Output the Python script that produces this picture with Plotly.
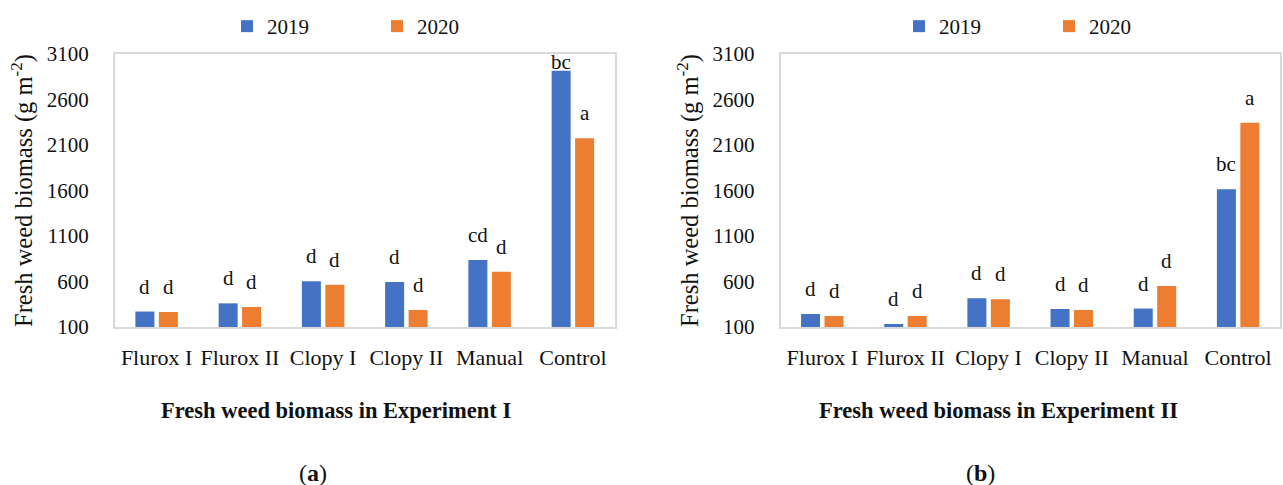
import plotly.graph_objects as go

# Treatments on the category axis and the two seasons shown as grouped bars
treatments = ["Flurox I", "Flurox II", "Clopy I", "Clopy II", "Manual", "Control"]
years = ["2019", "2020"]

# Fresh weed biomass (g m-2), Experiment I
exp1_2019 = [270, 360, 602, 595, 836, 2917]
exp1_2020 = [265, 320, 565, 287, 708, 2174]
exp1_letters_2019 = ["d", "d", "d", "d", "cd", "bc"]
exp1_letters_2020 = ["d", "d", "d", "d", "d", "a"]

# Fresh weed biomass (g m-2), Experiment II
exp2_2019 = [243, 133, 415, 298, 303, 1613]
exp2_2020 = [221, 221, 404, 287, 551, 2345]
exp2_letters_2019 = ["d", "d", "d", "d", "d", "bc"]
exp2_letters_2020 = ["d", "d", "d", "d", "d", "a"]

y_ticks = [100, 600, 1100, 1600, 2100, 2600, 3100]

W, H = 1283, 485
BLUE, ORANGE = "#4472C4", "#ED7D31"
FONT = "Liberation Serif"
INK = "#111"
BORDER = "#d9d9d9"
Y_RANGE = [100, 3100]
BARGAP, BARGROUPGAP = 0.436, 0.19

X1_DOM = [115 / W, 614.5 / W]
X2_DOM = [780.7 / W, 1279.7 / W]
Y_DOM = [1 - 327 / H, 1 - 54 / H]

fig = go.Figure()

panels = [
    ("x", "y", "legend", exp1_2019, exp1_2020),
    ("x2", "y2", "legend2", exp2_2019, exp2_2020),
]
for xa, ya, lg, v19, v20 in panels:
    for name, vals, color in ((years[0], v19, BLUE), (years[1], v20, ORANGE)):
        fig.add_trace(go.Bar(
            x=treatments, y=vals, name=name, marker=dict(color=color, line=dict(width=0)),
            xaxis=xa, yaxis=ya, legend=lg, hoverinfo="skip",
        ))

# Significance letters above each bar
plot_h_px = (Y_DOM[1] - Y_DOM[0]) * H
px_per_unit = plot_h_px / (Y_RANGE[1] - Y_RANGE[0])
half_slot = (1 - BARGAP) / 4  # centre offset of each bar inside a group, in category units


def letter_annotations(xref, yref, values, letters, side):
    out = []
    for i, (v, t) in enumerate(zip(values, letters)):
        room = (Y_RANGE[1] - v) * px_per_unit - 8.5
        out.append(dict(
            x=i + side * half_slot, y=v, xref=xref, yref=yref, text=t,
            showarrow=False, yanchor="middle", xanchor="center",
            yshift=min(25, room), font=dict(family=FONT, size=21, color=INK),
        ))
    return out


annotations = []
annotations += letter_annotations("x", "y", exp1_2019, exp1_letters_2019, -1)
annotations += letter_annotations("x", "y", exp1_2020, exp1_letters_2020, +1)
annotations += letter_annotations("x2", "y2", exp2_2019, exp2_letters_2019, -1)
annotations += letter_annotations("x2", "y2", exp2_2020, exp2_letters_2020, +1)

# Panel titles and captions
for cx, title in ((336, "Fresh weed biomass in Experiment I"),
                  (998.6, "Fresh weed biomass in Experiment II")):
    annotations.append(dict(
        x=cx / W, y=1 - 410 / H, xref="paper", yref="paper", text=f"<b>{title}</b>",
        showarrow=False, xanchor="center", yanchor="middle",
        font=dict(family=FONT, size=22.5, color=INK),
    ))
for cx, cap in ((313, "a"), (980.5, "b")):
    annotations.append(dict(
        x=cx / W, y=1 - 473 / H, xref="paper", yref="paper", text=f"(<b>{cap}</b>)",
        showarrow=False, xanchor="center", yanchor="middle",
        font=dict(family=FONT, size=24, color=INK),
    ))

x_common = dict(
    type="category", showline=True, mirror=True, linecolor=BORDER, linewidth=2,
    showgrid=False, ticks="", ticklabelstandoff=10,
    tickfont=dict(family=FONT, size=22, color=INK), fixedrange=True,
)
y_common = dict(
    range=Y_RANGE, tickvals=y_ticks, showline=True, mirror=True, linecolor=BORDER,
    linewidth=2, showgrid=False, zeroline=False, ticks="", ticklabelstandoff=20,
    tickfont=dict(family=FONT, size=21, color=INK), fixedrange=True,
    title=dict(text="Fresh weed biomass (g m<sup>-2</sup>)", standoff=7,
               font=dict(family=FONT, size=24.5, color=INK)),
)
legend_common = dict(
    orientation="h", xanchor="left", yanchor="middle", y=1 - 26.5 / H,
    font=dict(family=FONT, size=21, color=INK), bgcolor="rgba(0,0,0,0)",
    entrywidth=105, entrywidthmode="pixels", itemclick=False, itemdoubleclick=False,
)

fig.update_layout(
    width=W, height=H, margin=dict(l=0, r=0, t=0, b=0, autoexpand=False),
    paper_bgcolor="white", plot_bgcolor="white",
    barmode="group", bargap=BARGAP, bargroupgap=BARGROUPGAP,
    xaxis=dict(domain=X1_DOM, anchor="y", **x_common),
    yaxis=dict(domain=Y_DOM, anchor="x", **y_common),
    xaxis2=dict(domain=X2_DOM, anchor="y2", **x_common),
    yaxis2=dict(domain=Y_DOM, anchor="x2", **y_common),
    legend=dict(x=227 / W, **legend_common),
    legend2=dict(x=899 / W, **legend_common),
    annotations=annotations,
    showlegend=True,
)

fig.write_html("out.html", config={"displayModeBar": False})
